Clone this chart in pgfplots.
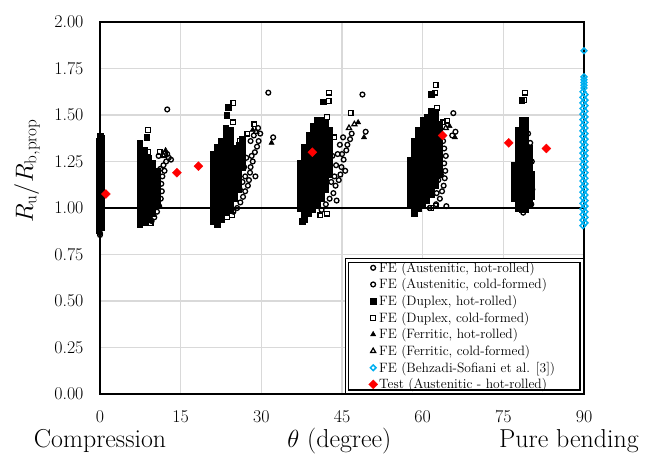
\documentclass[border=0pt]{standalone}
\usepackage{pgfplots}
\pgfplotsset{compat=1.18}
\definecolor{bsblue}{RGB}{0,176,240}
\definecolor{gridgray}{RGB}{217,217,217}
\newcommand{\legtxt}[1]{\makebox[200bp][l]{\rule[-3.5bp]{0pt}{13.5bp}#1}}
\begin{document}
\begin{tikzpicture}
\begin{axis}[
  name=ax, scale only axis, width=484bp, height=372bp,
  xmin=0, xmax=90, ymin=0, ymax=2,
  xtick={0,15,30,45,60,75,90},
  ytick={0,0.25,0.5,0.75,1,1.25,1.5,1.75,2},
  clip=false,
  axis line style={line width=1.6bp},
  major tick length=0pt,
  xmajorgrids, ymajorgrids,
  grid style={gridgray, line width=1.3bp},
  /pgf/number format/assume math mode=true,
  tick label style={font=\fontsize{18}{22}\selectfont},
  xticklabel style={yshift=-13bp},
  yticklabel style={/tikz/xshift=-13bp, /pgf/number format/fixed, /pgf/number format/fixed zerofill, /pgf/number format/precision=2},
  every axis y label/.style={at={(rel axis cs:0,0.6)}, xshift=-73bp, rotate=90, anchor=center},
  ylabel={$R_\mathrm{u}/R_\mathrm{b,prop}$},
  label style={font=\fontsize{25}{30}\selectfont},
  legend cell align=left,
  legend image code/.code={\path[draw=none] (0bp,0bp) -- (28bp,0bp); \draw[#1] plot coordinates {(25bp,0bp)};},
  legend style={at={(1,0)}, anchor=south east, xshift=-1.7bp, yshift=1.7bp,
    draw=black, line width=1.2bp, double, double distance=2.2bp,
    inner xsep=1bp, inner ysep=1.5bp, row sep=5bp,
    font=\fontsize{13.6}{16}\selectfont,
    nodes={inner xsep=1.5bp, inner ysep=0bp}},
]
% reference line R = 1
\addplot[black, line width=1.5bp, forget plot] coordinates {(0,1) (90,1)};

% FE Austenitic hot-rolled
\addplot[only marks, mark=o, mark size=2.4bp, mark options={draw=black, line width=1.3bp}] coordinates {
(0,0.855)(0,0.865)
(9.6,0.93)(10.1,0.95)(10.6,0.98)(11.0,1.01)(11.3,1.05)(11.5,1.09)(11.4,1.13)(11.6,1.17)(11.2,1.21)(11.8,1.23)(12.3,1.25)(12.8,1.27)(13.2,1.26)(12.5,1.29)(10.9,1.28)(12.5,1.53)
(24.8,0.98)(25.5,1.00)(26.1,1.03)(26.6,1.06)(27.0,1.09)(27.5,1.12)(27.7,1.15)(27.9,1.19)(28.0,1.22)(28.4,1.25)(28.2,1.28)(28.8,1.30)(29.2,1.33)(29.5,1.36)(29.8,1.40)(29.4,1.43)(27.0,1.17)(26.8,1.22)(27.2,1.27)(26.5,1.14)(28.0,1.36)(28.6,1.39)(31.3,1.62)(32.2,1.38)
(41.2,0.99)(42.0,1.02)(42.7,1.05)(43.4,1.08)(43.8,1.12)(44.4,1.15)(44.7,1.18)(44.9,1.22)(45.3,1.26)(45.0,1.29)(45.8,1.31)(46.0,1.34)(46.5,1.37)(46.8,1.40)(43.6,1.17)(43.9,1.23)(44.2,1.29)(44.6,1.34)(45.2,1.38)(43.2,1.28)(43.0,1.14)(48.8,1.61)(49.4,1.41)
(61.3,1.00)(62.5,1.02)(63.2,1.05)(63.6,1.09)(63.9,1.12)(64.1,1.16)(64.2,1.20)(64.0,1.24)(64.3,1.28)(64.0,1.32)(63.8,1.36)(62.6,1.08)(62.9,1.15)(63.0,1.22)(62.8,1.30)(65.5,1.39)(66.1,1.41)(65.7,1.51)
(78.7,0.975)(80.2,1.02)(80.4,1.10)(80.3,1.25)(80.0,1.35)(79.6,1.40)
};
\addlegendentry{\legtxt{FE (Austenitic, hot-rolled)}}

% FE Austenitic cold-formed
\addplot[only marks, mark=o, mark size=2.4bp, mark options={draw=black, line width=1.3bp}] coordinates {
(10.2,1.19)(12.0,1.20)(26.0,1.10)(28.9,1.17)(44.0,1.04)(45.6,1.20)(64.4,1.01)(63.4,1.18)(79.9,1.16)
};
\addlegendentry{\legtxt{FE (Austenitic, cold-formed)}}

% FE Duplex hot-rolled
\addplot[only marks, mark=square*, mark size=2.8bp, mark options={fill=black, draw=black, line width=0.6bp}] coordinates {
(-0.2,0.88)(0.2,0.895)(-0.2,0.91)(0.2,0.925)(-0.2,0.94)(0.2,0.955)(-0.2,0.97)(0.2,0.985)(-0.2,1.00)(0.2,1.015)(-0.2,1.03)(0.2,1.045)(-0.2,1.06)(0.2,1.075)(-0.2,1.09)(0.2,1.105)(-0.2,1.12)(0.2,1.135)(-0.2,1.15)(0.2,1.165)(-0.2,1.18)(0.2,1.195)(-0.2,1.21)(0.2,1.225)(-0.2,1.24)(0.2,1.255)(-0.2,1.27)(0.2,1.285)(-0.2,1.30)(0.2,1.315)(-0.2,1.33)(0.2,1.345)(-0.2,1.36)(0.2,1.375)(0,1.385)
(7.4,0.91)(7.4,0.94)(7.4,0.97)(7.4,1.00)(7.4,1.03)(7.4,1.06)(7.4,1.09)(7.4,1.12)(7.4,1.15)(7.4,1.18)(7.4,1.21)(7.4,1.24)(7.4,1.27)(7.4,1.30)(7.4,1.33)(7.4,1.35)
(8.2,0.92)(8.2,0.95)(8.2,0.98)(8.2,1.01)(8.2,1.04)(8.2,1.07)(8.2,1.10)(8.2,1.13)(8.2,1.16)(8.2,1.19)(8.2,1.22)(8.2,1.25)(8.2,1.28)(8.2,1.31)
(9.0,0.94)(9.0,0.97)(9.0,1.00)(9.0,1.03)(9.0,1.06)(9.0,1.09)(9.0,1.12)(9.0,1.15)(9.0,1.18)(9.0,1.21)(9.0,1.24)(9.0,1.27)
(9.8,0.97)(9.8,1.00)(9.8,1.03)(9.8,1.06)(9.8,1.09)(9.8,1.12)(9.8,1.15)(9.8,1.18)(9.8,1.21)(9.8,1.24)
(10.6,1.02)(10.6,1.05)(10.6,1.08)(10.6,1.11)(10.6,1.14)(10.6,1.17)(10.6,1.20)
(8.7,1.38)
(21.0,0.93)(21.0,0.96)(21.0,0.99)(21.0,1.02)(21.0,1.05)(21.0,1.08)(21.0,1.11)(21.0,1.14)(21.0,1.17)(21.0,1.20)(21.0,1.23)(21.0,1.26)(21.0,1.29)
(21.8,0.91)(21.8,0.94)(21.8,0.97)(21.8,1.00)(21.8,1.03)(21.8,1.06)(21.8,1.09)(21.8,1.12)(21.8,1.15)(21.8,1.18)(21.8,1.21)(21.8,1.24)(21.8,1.27)(21.8,1.30)(21.8,1.33)
(22.6,0.94)(22.6,0.97)(22.6,1.00)(22.6,1.03)(22.6,1.06)(22.6,1.09)(22.6,1.12)(22.6,1.15)(22.6,1.18)(22.6,1.21)(22.6,1.24)(22.6,1.27)(22.6,1.30)(22.6,1.33)(22.6,1.36)
(23.4,0.98)(23.4,1.01)(23.4,1.04)(23.4,1.07)(23.4,1.10)(23.4,1.13)(23.4,1.16)(23.4,1.19)(23.4,1.22)(23.4,1.25)(23.4,1.28)(23.4,1.31)(23.4,1.34)(23.4,1.37)(23.4,1.40)(23.4,1.43)
(24.2,1.00)(24.2,1.03)(24.2,1.06)(24.2,1.09)(24.2,1.12)(24.2,1.15)(24.2,1.18)(24.2,1.21)(24.2,1.24)(24.2,1.27)(24.2,1.30)(24.2,1.33)(24.2,1.36)(24.2,1.39)(24.2,1.42)
(25.0,1.05)(25.0,1.08)(25.0,1.11)(25.0,1.14)(25.0,1.17)(25.0,1.20)(25.0,1.23)(25.0,1.26)(25.0,1.29)(25.0,1.32)
(25.8,1.10)(25.8,1.13)(25.8,1.16)(25.8,1.19)(25.8,1.22)(25.8,1.25)(25.8,1.28)(25.8,1.31)(25.8,1.34)
(26.5,1.22)(26.5,1.25)(26.5,1.28)(26.5,1.31)(26.5,1.34)(26.5,1.37)
(23.9,1.54)(23.6,1.50)
(37.2,1.00)(37.2,1.03)(37.2,1.06)(37.2,1.09)(37.2,1.12)(37.2,1.15)(37.2,1.18)(37.2,1.21)(37.2,1.24)
(38.0,0.94)(38.0,0.97)(38.0,1.00)(38.0,1.03)(38.0,1.06)(38.0,1.09)(38.0,1.12)(38.0,1.15)(38.0,1.18)(38.0,1.21)(38.0,1.24)(38.0,1.27)(38.0,1.30)(38.0,1.33)
(38.8,0.97)(38.8,1.00)(38.8,1.03)(38.8,1.06)(38.8,1.09)(38.8,1.12)(38.8,1.15)(38.8,1.18)(38.8,1.21)(38.8,1.24)(38.8,1.27)(38.8,1.30)(38.8,1.33)(38.8,1.36)(38.8,1.39)
(39.6,0.99)(39.6,1.02)(39.6,1.05)(39.6,1.08)(39.6,1.11)(39.6,1.14)(39.6,1.17)(39.6,1.20)(39.6,1.23)(39.6,1.26)(39.6,1.29)(39.6,1.32)(39.6,1.35)(39.6,1.38)(39.6,1.41)(39.6,1.44)
(40.4,1.02)(40.4,1.05)(40.4,1.08)(40.4,1.11)(40.4,1.14)(40.4,1.17)(40.4,1.20)(40.4,1.23)(40.4,1.26)(40.4,1.29)(40.4,1.32)(40.4,1.35)(40.4,1.38)(40.4,1.41)(40.4,1.44)(40.4,1.47)
(41.2,1.05)(41.2,1.08)(41.2,1.11)(41.2,1.14)(41.2,1.17)(41.2,1.20)(41.2,1.23)(41.2,1.26)(41.2,1.29)(41.2,1.32)(41.2,1.35)(41.2,1.38)(41.2,1.41)(41.2,1.44)(41.2,1.47)
(42.0,1.10)(42.0,1.13)(42.0,1.16)(42.0,1.19)(42.0,1.22)(42.0,1.25)(42.0,1.28)(42.0,1.31)(42.0,1.34)(42.0,1.37)(42.0,1.40)(42.0,1.43)(42.0,1.46)
(42.7,1.18)(42.7,1.21)(42.7,1.24)(42.7,1.27)(42.7,1.30)(42.7,1.33)(42.7,1.36)(42.7,1.39)(42.7,1.42)
(41.5,1.57)(37.6,0.93)
(57.6,1.02)(57.6,1.05)(57.6,1.08)(57.6,1.11)(57.6,1.14)(57.6,1.17)(57.6,1.20)(57.6,1.23)(57.6,1.26)
(58.4,0.97)(58.4,1.00)(58.4,1.03)(58.4,1.06)(58.4,1.09)(58.4,1.12)(58.4,1.15)(58.4,1.18)(58.4,1.21)(58.4,1.24)(58.4,1.27)(58.4,1.30)(58.4,1.33)(58.4,1.36)
(59.2,1.00)(59.2,1.03)(59.2,1.06)(59.2,1.09)(59.2,1.12)(59.2,1.15)(59.2,1.18)(59.2,1.21)(59.2,1.24)(59.2,1.27)(59.2,1.30)(59.2,1.33)(59.2,1.36)(59.2,1.39)(59.2,1.42)
(60.0,1.02)(60.0,1.05)(60.0,1.08)(60.0,1.11)(60.0,1.14)(60.0,1.17)(60.0,1.20)(60.0,1.23)(60.0,1.26)(60.0,1.29)(60.0,1.32)(60.0,1.35)(60.0,1.38)(60.0,1.41)(60.0,1.44)(60.0,1.47)
(60.8,1.04)(60.8,1.07)(60.8,1.10)(60.8,1.13)(60.8,1.16)(60.8,1.19)(60.8,1.22)(60.8,1.25)(60.8,1.28)(60.8,1.31)(60.8,1.34)(60.8,1.37)(60.8,1.40)(60.8,1.43)(60.8,1.46)(60.8,1.49)
(61.6,1.07)(61.6,1.10)(61.6,1.13)(61.6,1.16)(61.6,1.19)(61.6,1.22)(61.6,1.25)(61.6,1.28)(61.6,1.31)(61.6,1.34)(61.6,1.37)(61.6,1.40)(61.6,1.43)(61.6,1.46)(61.6,1.49)(61.6,1.52)
(62.4,1.12)(62.4,1.15)(62.4,1.18)(62.4,1.21)(62.4,1.24)(62.4,1.27)(62.4,1.30)(62.4,1.33)(62.4,1.36)(62.4,1.39)(62.4,1.42)(62.4,1.45)(62.4,1.48)(62.4,1.51)
(63.2,1.18)(63.2,1.21)(63.2,1.24)(63.2,1.27)(63.2,1.30)(63.2,1.33)(63.2,1.36)(63.2,1.39)(63.2,1.42)(63.2,1.45)
(61.6,1.61)
(77.0,1.05)(77.0,1.08)(77.0,1.11)(77.0,1.14)(77.0,1.17)(77.0,1.20)(77.0,1.23)
(77.7,1.00)(77.7,1.03)(77.7,1.06)(77.7,1.09)(77.7,1.12)(77.7,1.15)(77.7,1.18)(77.7,1.21)(77.7,1.24)(77.7,1.27)(77.7,1.30)(77.7,1.33)(77.7,1.36)(77.7,1.39)(77.7,1.42)
(78.4,0.99)(78.4,1.02)(78.4,1.05)(78.4,1.08)(78.4,1.11)(78.4,1.14)(78.4,1.17)(78.4,1.20)(78.4,1.23)(78.4,1.26)(78.4,1.29)(78.4,1.32)(78.4,1.35)(78.4,1.38)(78.4,1.41)(78.4,1.44)(78.4,1.47)
(79.1,0.99)(79.1,1.02)(79.1,1.05)(79.1,1.08)(79.1,1.11)(79.1,1.14)(79.1,1.17)(79.1,1.20)(79.1,1.23)(79.1,1.26)(79.1,1.29)(79.1,1.32)(79.1,1.35)(79.1,1.38)(79.1,1.41)(79.1,1.44)(79.1,1.475)
(79.8,1.02)(79.8,1.05)(79.8,1.08)(79.8,1.11)(79.8,1.14)(79.8,1.17)(79.8,1.20)(79.8,1.23)(79.8,1.26)(79.8,1.29)(79.8,1.32)
(80.3,1.06)(80.3,1.09)(80.3,1.12)(80.3,1.15)(80.3,1.18)
(78.4,1.58)
};
\addlegendentry{\legtxt{FE (Duplex, hot-rolled)}}

% FE Duplex cold-formed
\addplot[only marks, mark=square, mark size=2.4bp, mark options={draw=black, fill=white, line width=1.2bp}] coordinates {
(8.9,1.42)(8.9,1.30)(11.1,1.30)(12.0,1.29)(9.4,0.92)
(23.6,0.95)(24.6,0.96)(24.7,1.46)(28.7,1.45)(26.0,1.36)(27.4,1.40)(24.8,1.565)
(41.0,0.96)(42.2,0.97)(46.6,1.51)(42.5,1.575)(42.6,1.62)(43.6,1.38)(42.2,1.49)
(61.5,1.00)(62.4,1.01)(62.4,1.66)(62.3,1.62)(62.7,1.54)(63.7,1.46)(64.6,1.47)
(79.0,1.62)(78.8,1.58)
};
\addlegendentry{\legtxt{FE (Duplex, cold-formed)}}

% FE Ferritic hot-rolled
\addplot[only marks, mark=triangle*, mark size=3bp, mark options={fill=black, draw=black, line width=0.5bp}] coordinates {
(12.2,1.31)(28.4,1.42)(31.9,1.35)(49.1,1.38)(48.0,1.46)(65.0,1.44)(66.0,1.38)
};
\addlegendentry{\legtxt{FE (Ferritic, hot-rolled)}}

% FE Ferritic cold-formed
\addplot[only marks, mark=triangle, mark size=3bp, mark options={draw=black, line width=1.2bp}] coordinates {
(11.8,1.28)(29.0,1.41)(46.3,1.43)(47.3,1.45)(64.3,1.43)
};
\addlegendentry{\legtxt{FE (Ferritic, cold-formed)}}

% FE Behzadi-Sofiani et al.
\addplot[only marks, mark=square, mark size=2bp, mark options={rotate=45, draw=bsblue, fill=white, line width=1.5bp}] coordinates {
(89.8,0.905)(90.2,0.92)(89.8,0.935)(90.2,0.95)(89.8,0.965)(90.2,0.98)(89.8,0.995)(90.2,1.01)(89.8,1.025)(90.2,1.04)
(89.8,1.055)(90.2,1.07)(89.8,1.085)(90.2,1.10)(89.8,1.115)(90.2,1.13)(89.8,1.145)(90.2,1.16)(89.8,1.175)(90.2,1.19)
(89.8,1.205)(90.2,1.22)(89.8,1.235)(90.2,1.25)(89.8,1.265)(90.2,1.28)(89.8,1.295)(90.2,1.31)(89.8,1.325)(90.2,1.34)
(89.8,1.355)(90.2,1.37)(89.8,1.385)(90.2,1.40)(89.8,1.415)(90.2,1.43)(89.8,1.445)(90.2,1.46)(89.8,1.475)(90.2,1.49)
(89.8,1.505)(90.2,1.52)(89.8,1.535)(90.2,1.55)(89.8,1.565)(90.2,1.58)(89.8,1.595)(90.2,1.61)(89.8,1.625)
(90,1.645)(90,1.66)(90,1.675)(90,1.69)(90,1.705)(90,1.845)
};
\addlegendentry{\legtxt{FE (Behzadi-Sofiani et al. [3])}}

% Test
\addplot[only marks, mark=square*, mark size=3.2bp, mark options={rotate=45, fill=red, draw=red, line width=0.3bp}] coordinates {
(1.1,1.075)(14.3,1.19)(18.3,1.225)(39.5,1.30)(63.7,1.39)(76.0,1.35)(83.0,1.32)
};
\addlegendentry{\legtxt{Test (Austenitic - hot-rolled)}}

\node[anchor=base, font=\fontsize{26}{30}\selectfont] at ([yshift=-53bp]rel axis cs:0,0) {Compression};
\node[anchor=base, font=\fontsize{26}{30}\selectfont] at ([yshift=-53bp]axis cs:44.5,0) {$\theta$ (degree)};
\node[anchor=base, font=\fontsize{26}{30}\selectfont] at ([yshift=-53bp]axis cs:87.2,0) {Pure bending};
\end{axis}
\path ([shift={(-100bp,-58bp)}]ax.south west) rectangle ([shift={(68bp,22bp)}]ax.north east);
\end{tikzpicture}
\end{document}
